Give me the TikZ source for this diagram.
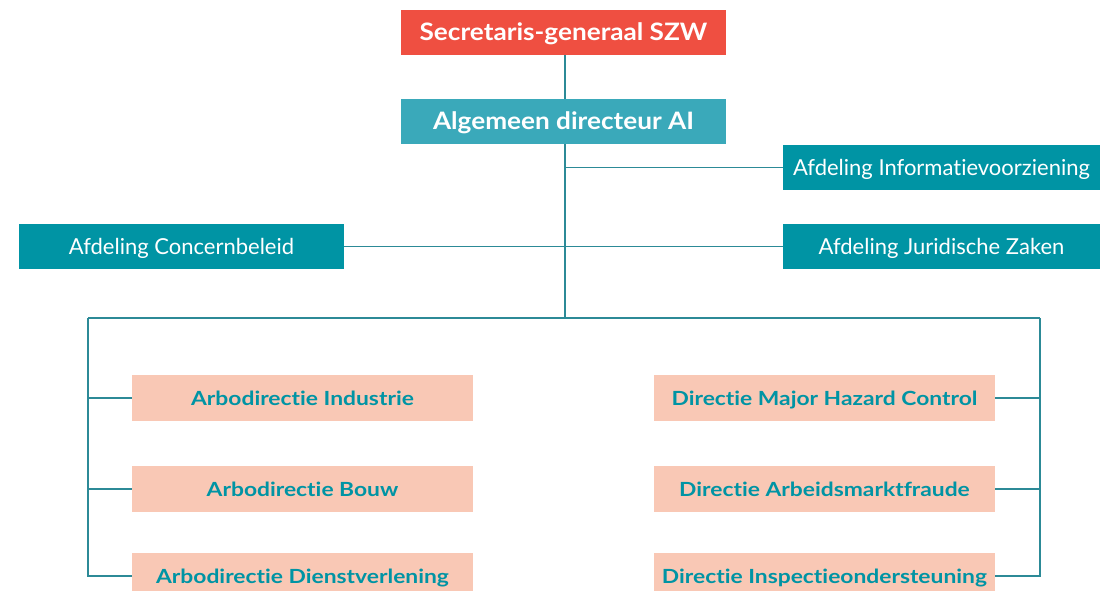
\documentclass[tikz,border=0pt]{standalone}
\usepackage{fontspec}
\setmainfont{Lato}[RawFeature=-liga]
\newfontfamily\topfont{Lato}[FakeStretch=1.09,RawFeature=-liga]
\newfontfamily\pinkfont{Lato}[FakeStretch=1.17,RawFeature=-liga]
\definecolor{redbox}{HTML}{EF4F41}
\definecolor{lteal}{HTML}{3AA9BA}
\definecolor{dteal}{HTML}{0094A4}
\definecolor{pinkbox}{HTML}{F9C8B5}
\definecolor{linec}{HTML}{2C8A97}
\tikzset{
  topbox/.style={rectangle, inner sep=0pt, minimum width=325pt, minimum height=45pt, text height=17pt, text depth=0pt, text=white, font=\topfont\fontsize{24}{28}\selectfont\bfseries},
  deptbox/.style={rectangle, fill=dteal, inner sep=0pt, minimum height=45pt, text height=15.8pt, text depth=0pt, text=white, font=\fontsize{22}{26}\selectfont},
  pinkb/.style={rectangle, fill=pinkbox, inner sep=0pt, minimum width=341pt, minimum height=46pt, text height=14pt, text depth=0pt, text=dteal, font=\pinkfont\fontsize{19.5}{23}\selectfont\bfseries},
  conn/.style={draw=linec, line width=1.3pt}
}
\begin{document}
\begin{tikzpicture}[x=1pt,y=-1pt]
\useasboundingbox (0,0) rectangle (1100,591);
\node[topbox, fill=redbox] (sg) at (563.5,32.5) {Secretaris-generaal SZW};
\node[topbox, fill=lteal] (ad) at (563.5,121.5) {Algemeen directeur AI};
\node[deptbox, minimum width=317pt] (info) at (941.5,167.5) {Afdeling Informatievoorziening};
\node[deptbox, minimum width=317pt] (jur) at (941.5,246.5) {Afdeling Juridische Zaken};
\node[deptbox, minimum width=325pt] (conc) at (181.5,246.5) {Afdeling Concernbeleid};
\node[pinkb] (l1) at (302.5,398) {Arbodirectie Industrie};
\node[pinkb] (l2) at (302.5,489) {Arbodirectie Bouw};
\node[pinkb] (l3) at (302.5,576) {Arbodirectie Dienstverlening};
\node[pinkb] (r1) at (824.5,398) {Directie Major Hazard Control};
\node[pinkb] (r2) at (824.5,489) {Directie Arbeidsmarktfraude};
\node[pinkb] (r3) at (824.5,576) {Directie Inspectieondersteuning};
\coordinate (bus) at (565,318);
\coordinate (bl) at (88,318);
\coordinate (br) at (1040,318);
\draw[conn] ([xshift=1.5pt]sg.south) -- ([xshift=1.5pt]ad.north);
\draw[conn] ([xshift=1.5pt]ad.south) -- (bus);
\draw[conn] (bus |- info.west) -- (info.west);
\draw[conn] (bus |- jur.west) -- (jur.west);
\draw[conn] (bus |- conc.east) -- (conc.east);
\draw[conn] (bl) -- (br);
\draw[conn] (bl) |- (l3.west);
\draw[conn] (bl |- l1.west) -- (l1.west);
\draw[conn] (bl |- l2.west) -- (l2.west);
\draw[conn] (br) |- (r3.east);
\draw[conn] (br |- r1.east) -- (r1.east);
\draw[conn] (br |- r2.east) -- (r2.east);
\end{tikzpicture}
\end{document}
